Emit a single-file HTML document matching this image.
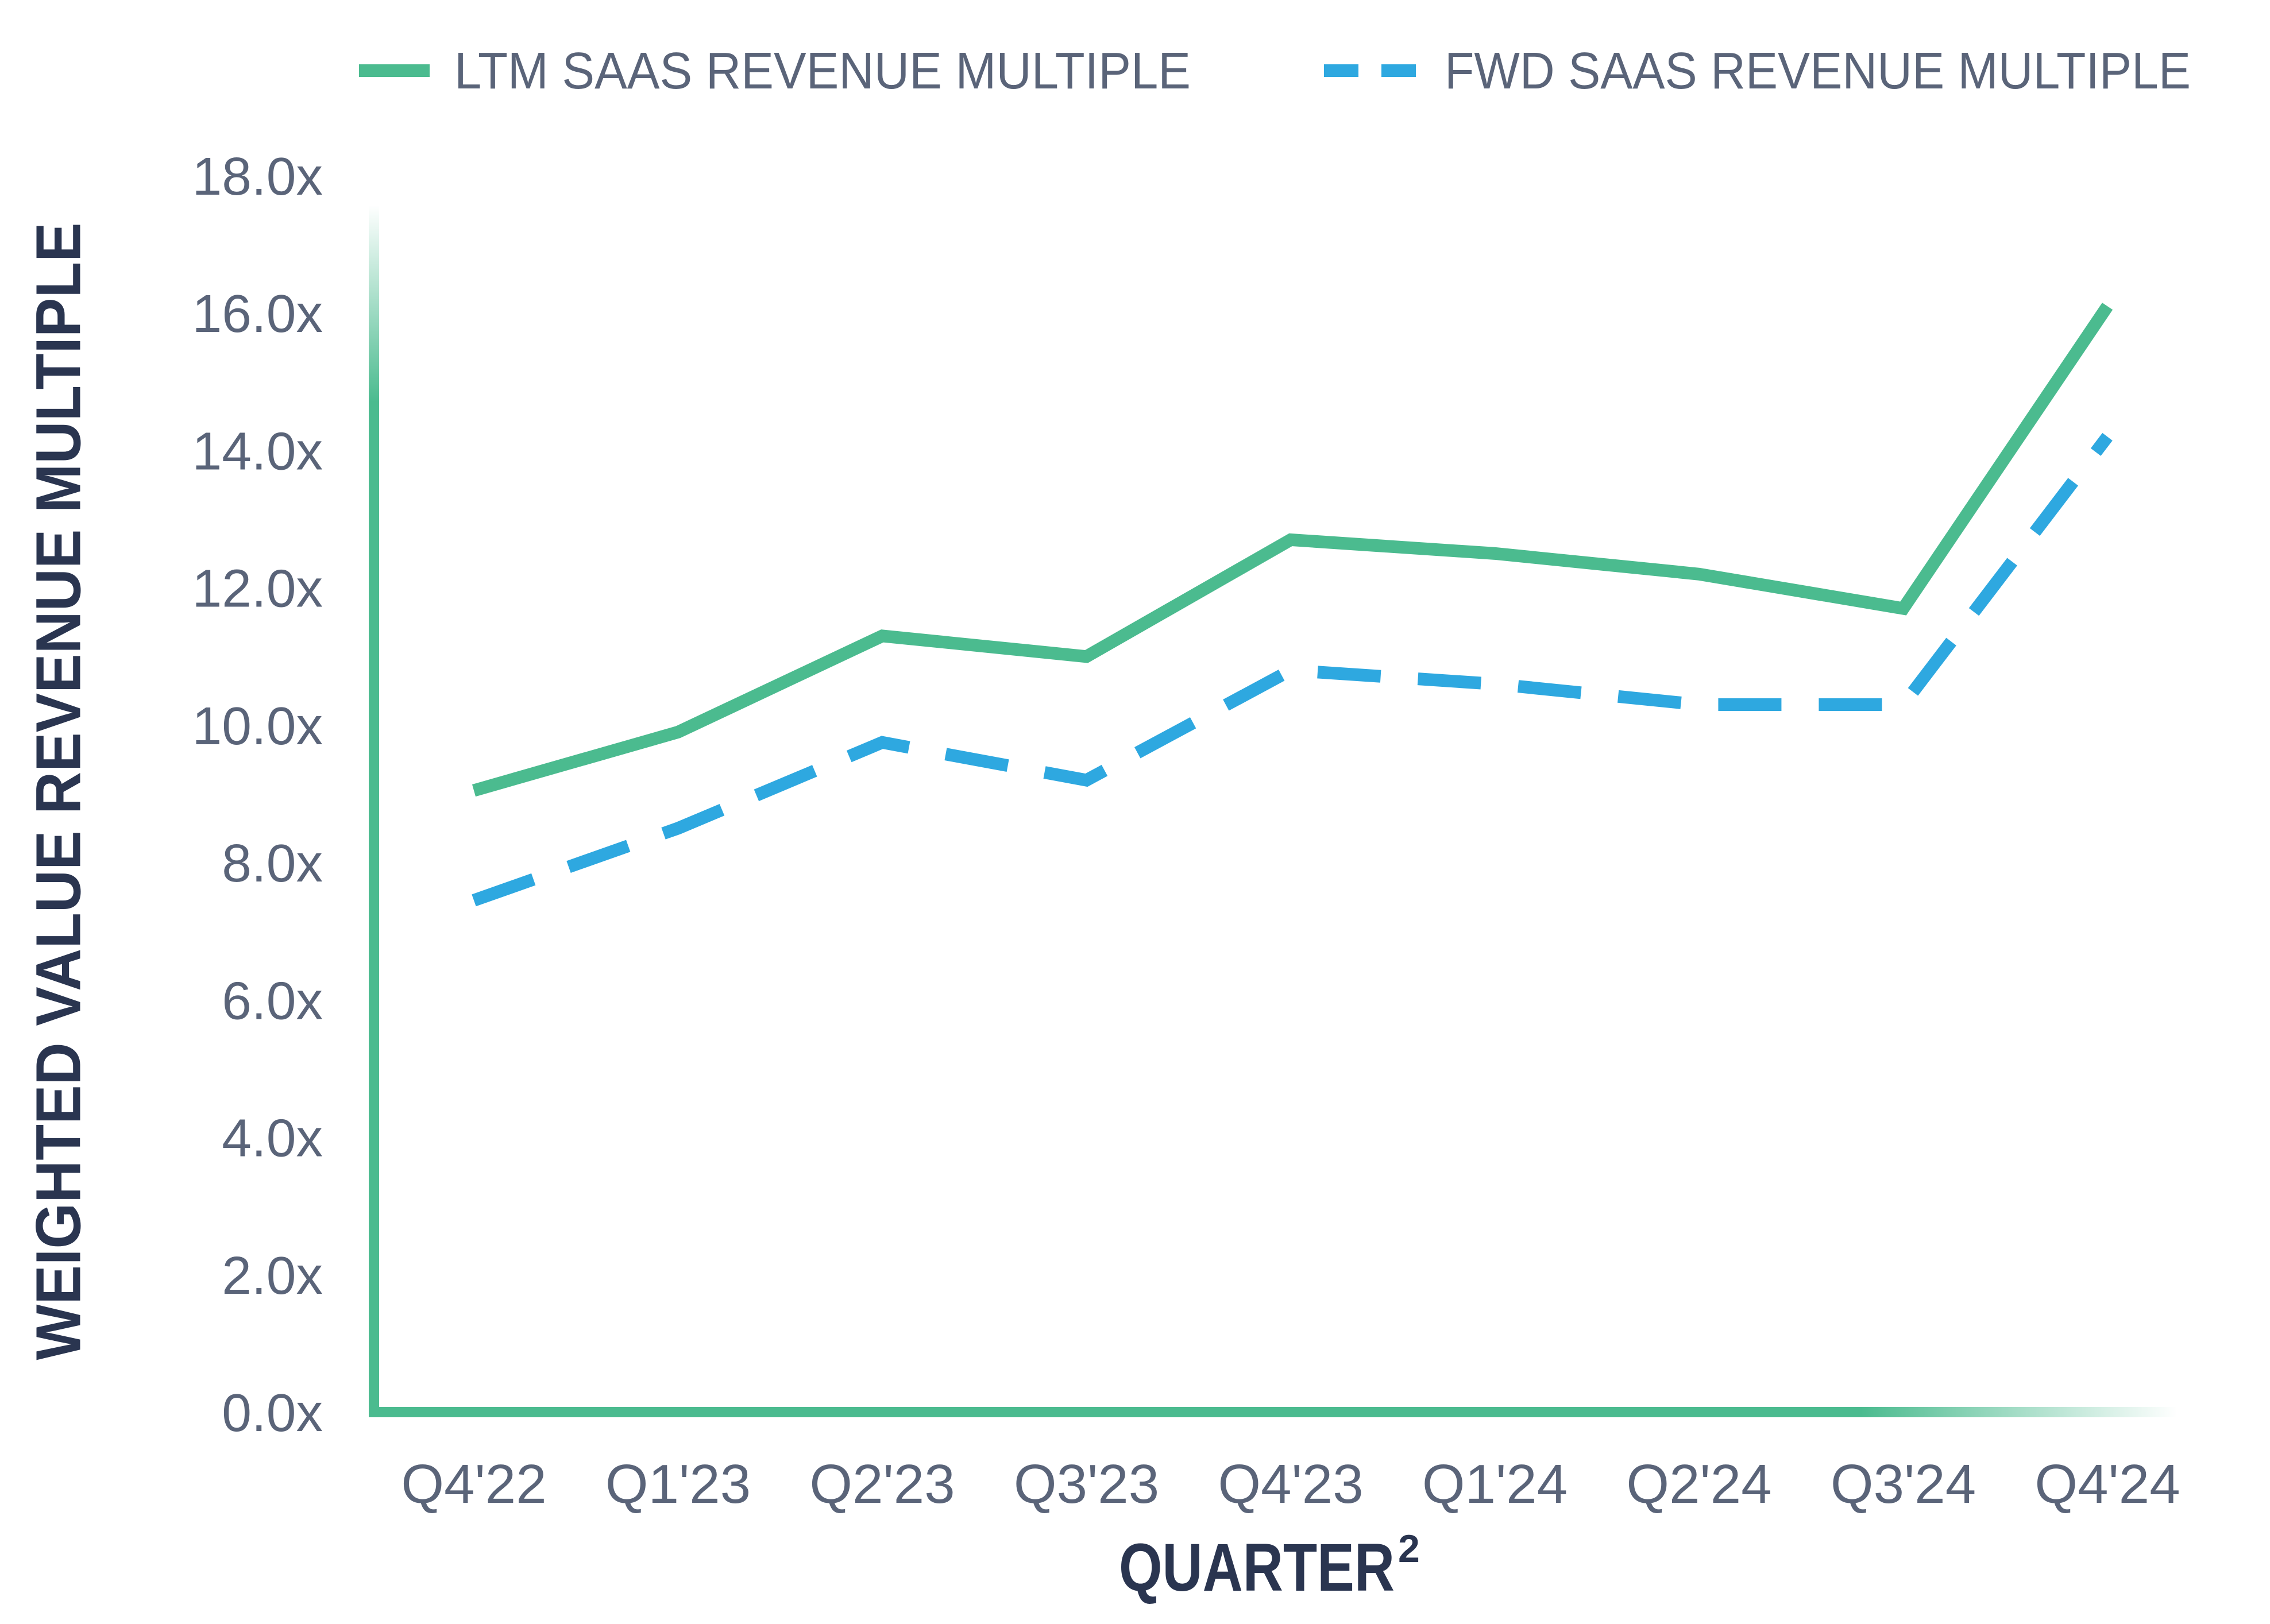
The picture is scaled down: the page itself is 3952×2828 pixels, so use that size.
<!DOCTYPE html>
<html><head><meta charset="utf-8"><style>
html,body{margin:0;padding:0;background:#fff;}
svg{display:block;}
text{font-family:"Liberation Sans Narrow","Liberation Sans",sans-serif;}
</style></head><body>
<svg id="chart" width="3952" height="2828" viewBox="0 0 3952 2828">
<defs>
<linearGradient id="yfade" x1="0" y1="357" x2="0" y2="700" gradientUnits="userSpaceOnUse">
<stop offset="0" stop-color="#4BBB8F" stop-opacity="0"/><stop offset="1" stop-color="#4BBB8F" stop-opacity="1"/></linearGradient>
<linearGradient id="xfade" x1="3240" y1="0" x2="3790" y2="0" gradientUnits="userSpaceOnUse">
<stop offset="0" stop-color="#4BBB8F" stop-opacity="1"/><stop offset="1" stop-color="#4BBB8F" stop-opacity="0"/></linearGradient>
</defs>
<g>
<line x1="625" y1="123" x2="748" y2="123" stroke="#4BBB8F" stroke-width="22"/>
<text x="791" y="154" font-size="90" fill="#5A6479" textLength="1282" lengthAdjust="spacingAndGlyphs">LTM SAAS REVENUE MULTIPLE</text>
<line x1="2305" y1="123" x2="2469" y2="123" stroke="#2EA8E0" stroke-width="22" stroke-dasharray="60 40"/>
<text x="2515" y="154" font-size="90" fill="#5A6479" textLength="1299" lengthAdjust="spacingAndGlyphs">FWD SAAS REVENUE MULTIPLE</text>
</g>
<g id="yticks"></g>
<g id="xticks"></g>
<line x1="651" y1="357" x2="651" y2="2467" stroke="url(#yfade)" stroke-width="18"/>
<line x1="642" y1="2459" x2="3790" y2="2459" stroke="url(#xfade)" stroke-width="18"/>
<g id="series"></g>
<text x="102" y="1378" font-size="110" font-weight="bold" fill="#2A3550" text-anchor="middle" dominant-baseline="central" transform="rotate(-90 102 1378)" textLength="1981" lengthAdjust="spacingAndGlyphs" font-family="Liberation Sans">WEIGHTED VALUE REVENUE MULTIPLE</text>
<text x="1948" y="2770" font-size="118" font-weight="bold" fill="#2A3550" textLength="480" lengthAdjust="spacingAndGlyphs">QUARTER</text>
<text x="2434" y="2720" font-size="68" font-weight="bold" fill="#2A3550">2</text>
</svg>
<script>
const categories = ["Q4'22","Q1'23","Q2'23","Q3'23","Q4'23","Q1'24","Q2'24","Q3'24","Q4'24"];
const ltmValues = [9.05, 9.9, 11.3, 11.0, 12.7, 12.5, 12.2, 11.7, 16.1];
const fwdValues = [7.45, 8.5, 9.75, 9.2, 10.8, 10.6, 10.3, 10.3, 14.2];
const yTickValues = [0,2,4,6,8,10,12,14,16,18];
const yTickLabels = ["0.0x","2.0x","4.0x","6.0x","8.0x","10.0x","12.0x","14.0x","16.0x","18.0x"];

const NS = "http://www.w3.org/2000/svg";
const yMin = 0, yMax = 18, yBottom = 2459, yTop = 306;
const xFirst = 825, xLast = 3669;
function yScale(v){ return yBottom - (v - yMin) / (yMax - yMin) * (yBottom - yTop); }
function xScale(i){ return xFirst + i * (xLast - xFirst) / (categories.length - 1); }

const yt = document.getElementById('yticks');
yTickValues.forEach((v, i) => {
  const t = document.createElementNS(NS, 'text');
  t.setAttribute('x', 562);
  t.setAttribute('y', yScale(v) + 33);
  t.setAttribute('text-anchor', 'end');
  t.setAttribute('font-size', '93');
  t.setAttribute('fill', '#5A6479');
  
  
  t.textContent = yTickLabels[i];
  yt.appendChild(t);
});
const xt = document.getElementById('xticks');
categories.forEach((c, i) => {
  const t = document.createElementNS(NS, 'text');
  t.setAttribute('x', xScale(i));
  t.setAttribute('y', 2617);
  t.setAttribute('text-anchor', 'middle');
  t.setAttribute('font-size', '96');
  t.setAttribute('fill', '#5A6479');
  
  
  t.textContent = c;
  xt.appendChild(t);
});
const sg = document.getElementById('series');
function pts(vals){ return vals.map((v, i) => xScale(i) + ',' + yScale(v)).join(' '); }
const fwd = document.createElementNS(NS, 'polyline');
fwd.setAttribute('points', pts(fwdValues));
fwd.setAttribute('fill', 'none');
fwd.setAttribute('stroke', '#2EA8E0');
fwd.setAttribute('stroke-width', '22');
fwd.setAttribute('stroke-dasharray', '110 65');


sg.appendChild(fwd);
const ltm = document.createElementNS(NS, 'polyline');
ltm.setAttribute('points', pts(ltmValues));
ltm.setAttribute('fill', 'none');
ltm.setAttribute('stroke', '#4BBB8F');
ltm.setAttribute('stroke-width', '22');


sg.appendChild(ltm);
</script>
</body></html>
